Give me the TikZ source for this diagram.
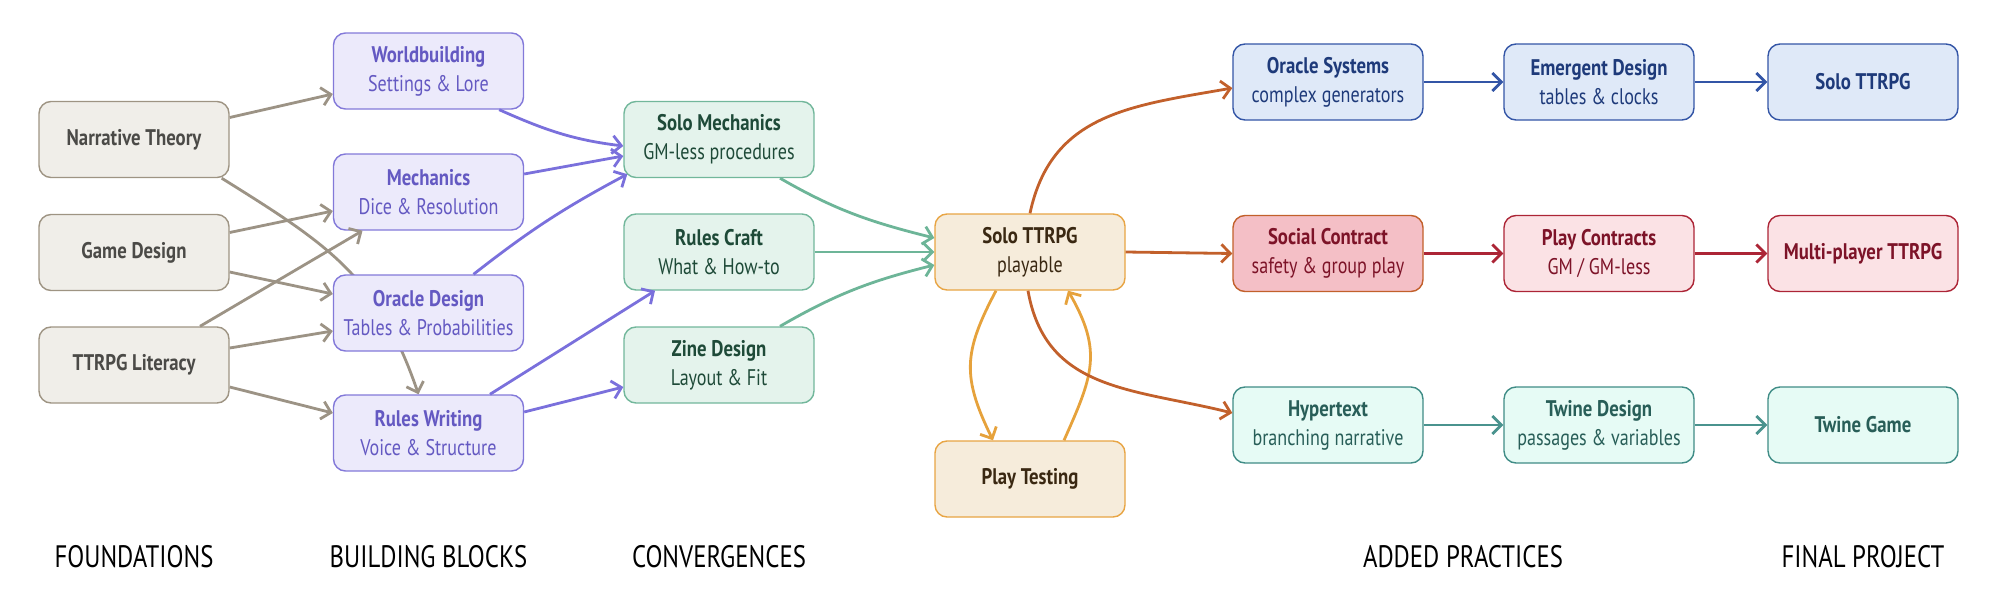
\documentclass[tikz,border=0pt]{standalone}
\usepackage{fontspec}
\setmainfont{PT Sans}[FakeStretch=0.8, BoldFeatures={FakeStretch=0.83}]
\usetikzlibrary{arrows.meta,calc,backgrounds}
\definecolor{foundfill}{HTML}{F0EEE9}
\definecolor{foundborder}{HTML}{9E9483}
\definecolor{foundtext}{HTML}{4B4A47}
\definecolor{foundlink}{HTML}{9C9385}
\definecolor{blockfill}{HTML}{ECEAFB}
\definecolor{blockborder}{HTML}{8379D9}
\definecolor{blocktext}{HTML}{6459C2}
\definecolor{blocklink}{HTML}{7A70DC}
\definecolor{convfill}{HTML}{E4F3EC}
\definecolor{convborder}{HTML}{72B79B}
\definecolor{convtext}{HTML}{1E4A38}
\definecolor{convlink}{HTML}{6DB598}
\definecolor{corefill}{HTML}{F6ECDB}
\definecolor{coreborder}{HTML}{E8A544}
\definecolor{coretext}{HTML}{3A2812}
\definecolor{corelink}{HTML}{E6A23C}
\definecolor{burnt}{HTML}{C2602B}
\definecolor{oraclefill}{HTML}{DFE9F8}
\definecolor{oracleborder}{HTML}{3355A6}
\definecolor{oracletext}{HTML}{1E3A7A}
\definecolor{socialfill}{HTML}{F4BFC6}
\definecolor{contractfill}{HTML}{FBE2E5}
\definecolor{contractborder}{HTML}{AC2536}
\definecolor{contracttext}{HTML}{7D1328}
\definecolor{twinefill}{HTML}{E6FBF5}
\definecolor{twineborder}{HTML}{3F8C86}
\definecolor{twinetext}{HTML}{285E58}
\definecolor{twinelink}{HTML}{4A938E}

\begin{document}
\begin{tikzpicture}[
  x=0.5pt, y=-0.5pt,
  font=\fontsize{11.3}{14.5}\selectfont,
  >={Straight Barb[length=4.5pt, width=9pt]},
  box/.style={draw, rounded corners=6pt, line width=0.7pt, align=center, minimum width=95pt, minimum height=38pt, inner sep=2pt},
  found/.style={box, fill=foundfill, draw=foundborder, text=foundtext, font=\fontsize{11.3}{14.5}\selectfont\bfseries},
  block/.style={box, fill=blockfill, draw=blockborder, text=blocktext},
  conv/.style={box, fill=convfill, draw=convborder, text=convtext},
  core/.style={box, fill=corefill, draw=coreborder, text=coretext},
  oracle/.style={box, fill=oraclefill, draw=oracleborder, text=oracletext},
  contract/.style={box, fill=contractfill, draw=contractborder, text=contracttext},
  twine/.style={box, fill=twinefill, draw=twineborder, text=twinetext},
  link/.style={->, line width=1.4pt},
  column/.style={font=\fontsize{15.5}{18}\selectfont, text=black}
]
\useasboundingbox (0,0) rectangle (1994,594);

% Foundations
\node[found] (nt) at (134,139.5) {Narrative Theory};
\node[found] (gd) at (134,252.5) {Game Design};
\node[found] (tl) at (134,365) {TTRPG Literacy};

% Building blocks
\node[block] (wb) at (428.5,71) {\textbf{Worldbuilding}\\Settings \& Lore};
\node[block] (mech) at (428.5,192) {\textbf{Mechanics}\\Dice \& Resolution};
\node[block] (od) at (428.5,313) {\textbf{Oracle Design}\\Tables \& Probabilities};
\node[block] (rw) at (428.5,433) {\textbf{Rules Writing}\\Voice \& Structure};

% Convergences
\node[conv] (sm) at (719,139.5) {\textbf{Solo Mechanics}\\GM-less procedures};
\node[conv] (rc) at (719,252) {\textbf{Rules Craft}\\What \& How-to};
\node[conv] (zd) at (719,365) {\textbf{Zine Design}\\Layout \& Fit};

% Playable core and its test loop
\node[core] (solo) at (1030,252) {\textbf{Solo TTRPG}\\playable};
\node[core, font=\fontsize{11.3}{14.5}\selectfont\bfseries] (pt) at (1030,479) {Play Testing};

% Added practices and final projects
\node[oracle] (os) at (1328,82) {\textbf{Oracle Systems}\\complex generators};
\node[oracle] (ed) at (1599,82) {\textbf{Emergent Design}\\tables \& clocks};
\node[oracle, font=\fontsize{11.3}{14.5}\selectfont\bfseries] (fsolo) at (1863,82) {Solo TTRPG};
\node[contract, fill=socialfill, draw=burnt] (sc) at (1328,253.5) {\textbf{Social Contract}\\safety \& group play};
\node[contract] (pc) at (1599,253.5) {\textbf{Play Contracts}\\GM / GM-less};
\node[contract, font=\fontsize{11.3}{14.5}\selectfont\bfseries] (multi) at (1863,253.5) {Multi-player TTRPG};
\node[twine] (hyp) at (1328,425) {\textbf{Hypertext}\\branching narrative};
\node[twine] (twd) at (1599,425) {\textbf{Twine Design}\\passages \& variables};
\node[twine, font=\fontsize{11.3}{14.5}\selectfont\bfseries] (twg) at (1863,425) {Twine Game};

% Foundations to building blocks
\begin{scope}[link, draw=foundlink]
  \draw ($(nt.east)+(0,-22)$) -- ($(wb.west)+(0,23)$);
  \draw ($(gd.east)+(0,-20)$) -- ($(mech.west)+(0,19)$);
  \draw ($(gd.east)+(0,19.5)$) -- ($(od.west)+(0,-19)$);
  \draw ($(tl.north)+(66,0)$) -- ($(mech.south)+(-66,0)$);
  \draw ($(tl.east)+(0,-17)$) -- ($(od.west)+(0,18)$);
  \draw ($(tl.east)+(0,22)$) -- ($(rw.west)+(0,-20)$);
\end{scope}
\begin{scope}[on background layer]
  \draw[link, draw=foundlink] ($(nt.south east)+(-8,0)$) to[out=-32, in=109, looseness=1.1] ($(rw.north)+(-10,0)$);
\end{scope}

% Building blocks to convergences
\begin{scope}[link, draw=blocklink]
  \draw ($(wb.south east)+(-25,0)$) to[out=-24, in=173] ($(sm.west)+(0,6.5)$);
  \draw ($(mech.east)+(0,-18)$) -- ($(sm.west)+(0,16.5)$);
  \draw ($(od.north)+(45,0)$) to[bend left=5] ($(sm.south west)+(4,-4)$);
  \draw ($(rw.north)+(61.5,0)$) -- ($(rc.south)+(-64,0)$);
  \draw ($(rw.east)+(0,-21)$) -- ($(zd.west)+(0,22)$);
\end{scope}

% Convergences to the playable core
\begin{scope}[link, draw=convlink]
  \draw ($(sm.south)+(61,0)$) to[out=-30, in=166] ($(solo.west)+(0,-14)$);
  \draw (rc.east) -- (solo.west);
  \draw ($(zd.north)+(61,0)$) to[out=30, in=194] ($(solo.west)+(0,13)$);
\end{scope}

% Test loop
\begin{scope}[link, draw=corelink]
  \draw ($(solo.south)+(-34,0)$) to[out=-118, in=116, looseness=1.2] ($(pt.north)+(-37,0)$);
  \draw ($(pt.north)+(34,0)$) to[out=66, in=-60, looseness=1.2] ($(solo.south)+(38,0)$);
\end{scope}

% Added practices
\begin{scope}[link, draw=burnt]
  \draw (solo.north) to[out=78, in=190, looseness=1.1] ($(os.west)+(0,6)$);
  \draw (solo.east) -- (sc.west);
  \draw ($(solo.south)+(-2,0)$) to[out=-80, in=166, looseness=1.1] ($(hyp.west)+(0,-12)$);
\end{scope}
\draw[link, draw=oracleborder] (os) -- (ed);
\draw[link, draw=oracleborder] (ed) -- (fsolo);
\draw[link, draw=contractborder] (sc) -- (pc);
\draw[link, draw=contractborder] (pc) -- (multi);
\draw[link, draw=twinelink] (hyp) -- (twd);
\draw[link, draw=twinelink] (twd) -- (twg);

% Column labels
\node[column] (lfound) at (134,557) {FOUNDATIONS};
\node[column] (lblock) at (428.5,557) {BUILDING BLOCKS};
\node[column] (lconv) at (719,557) {CONVERGENCES};
\node[column] (ladded) at (1463,557) {ADDED PRACTICES};
\node[column] (lfinal) at (1863,557) {FINAL PROJECT};

\end{tikzpicture}
\end{document}
